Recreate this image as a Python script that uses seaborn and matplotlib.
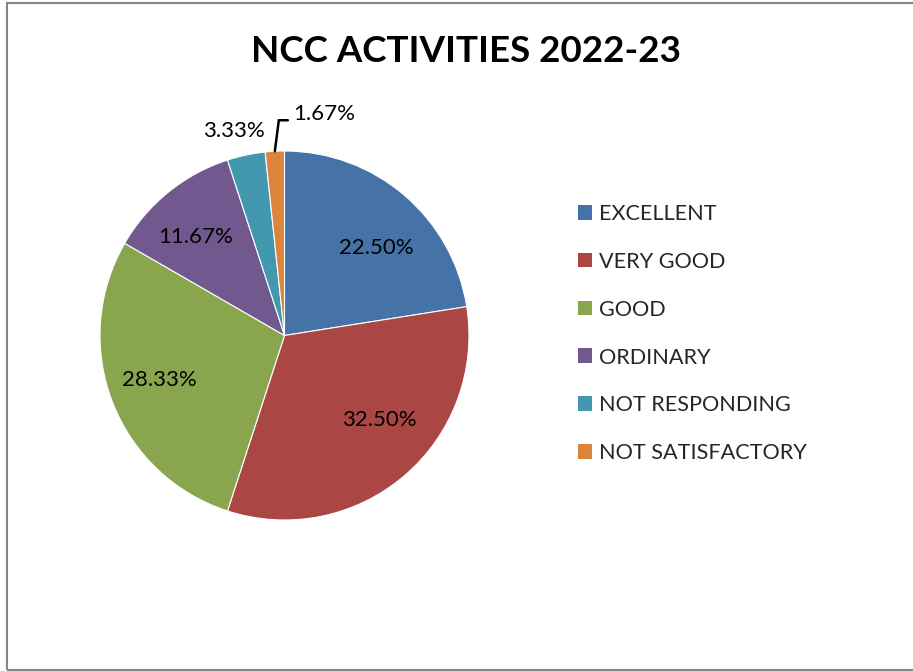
import numpy as np
import matplotlib
matplotlib.use("Agg")
import matplotlib.pyplot as plt
from matplotlib.patches import Rectangle, Patch
import seaborn as sns

categories = ["EXCELLENT", "VERY GOOD", "GOOD", "ORDINARY", "NOT RESPONDING", "NOT SATISFACTORY"]
values = [22.50, 32.50, 28.33, 11.67, 3.33, 1.67]
labels = ["22.50%", "32.50%", "28.33%", "11.67%", "3.33%", "1.67%"]
colors = ["#4572A7", "#AA4643", "#89A54E", "#71588F", "#4198AF", "#DB843D"]
title = "NCC ACTIVITIES 2022-23"

sns.set_style("white")
FONT = ["Lato", "DejaVu Sans"]
plt.rcParams["font.family"] = FONT

W, H = 913, 671
fig = plt.figure(figsize=(W / 100, H / 100), dpi=100)
ax = fig.add_axes([0, 0, 1, 1])

cx, cy, R = 284.5, H - 335.5, 184.5
wedges, _ = ax.pie(values, colors=colors, startangle=90, counterclock=False,
                   center=(cx, cy), radius=R, frame=True,
                   wedgeprops=dict(linewidth=0.8, edgecolor="white"))
ax.set_xlim(0, W)
ax.set_ylim(0, H)
ax.set_aspect("equal")
ax.axis("off")

LBL = 16
# label placement (radius fraction, angle offset deg) relative to wedge mid-angle
place = [(0.69, -5.8), (0.69, 7.7), (0.72, -1.5), (0.72, 3.0), (1.14, 2.0), None]
for w, lab, p in zip(wedges, labels, place):
    mid = np.deg2rad((w.theta1 + w.theta2) / 2)
    if p is not None:
        a = mid + np.deg2rad(p[1])
        ax.text(cx + p[0] * R * np.cos(a), cy + p[0] * R * np.sin(a), lab,
                ha="center", va="center", fontsize=LBL, color="black")
    else:
        ex, ey = cx + R * np.cos(mid), cy + R * np.sin(mid)
        kx, ky = ex + 4, ey + 31
        ax.plot([ex, kx, kx + 9], [ey, ky, ky], color="black", lw=1.8,
                solid_joinstyle="miter")
        ax.text(kx + 14, ky + 6, lab, ha="left", va="center", fontsize=LBL, color="black")

fig.text(466 / W, 1 - 52 / H, title, ha="center", va="center",
         fontsize=26.5, fontweight="bold", color="black")

handles = [Patch(facecolor=c, edgecolor="none") for c in colors]
leg = fig.legend(handles, categories, loc="upper left",
                 bbox_to_anchor=(569 / W, 1 - 195 / H), frameon=False,
                 fontsize=15.6, handlelength=0.68, handleheight=0.68,
                 handletextpad=0.3, labelspacing=1.29, borderaxespad=0)

fig.patches.append(Rectangle((7 / W, 1 - 670 / H), 1.0, (667) / H,
                             transform=fig.transFigure, fill=False,
                             edgecolor="#868686", linewidth=1.5))

fig.savefig("out.png", dpi=100)
